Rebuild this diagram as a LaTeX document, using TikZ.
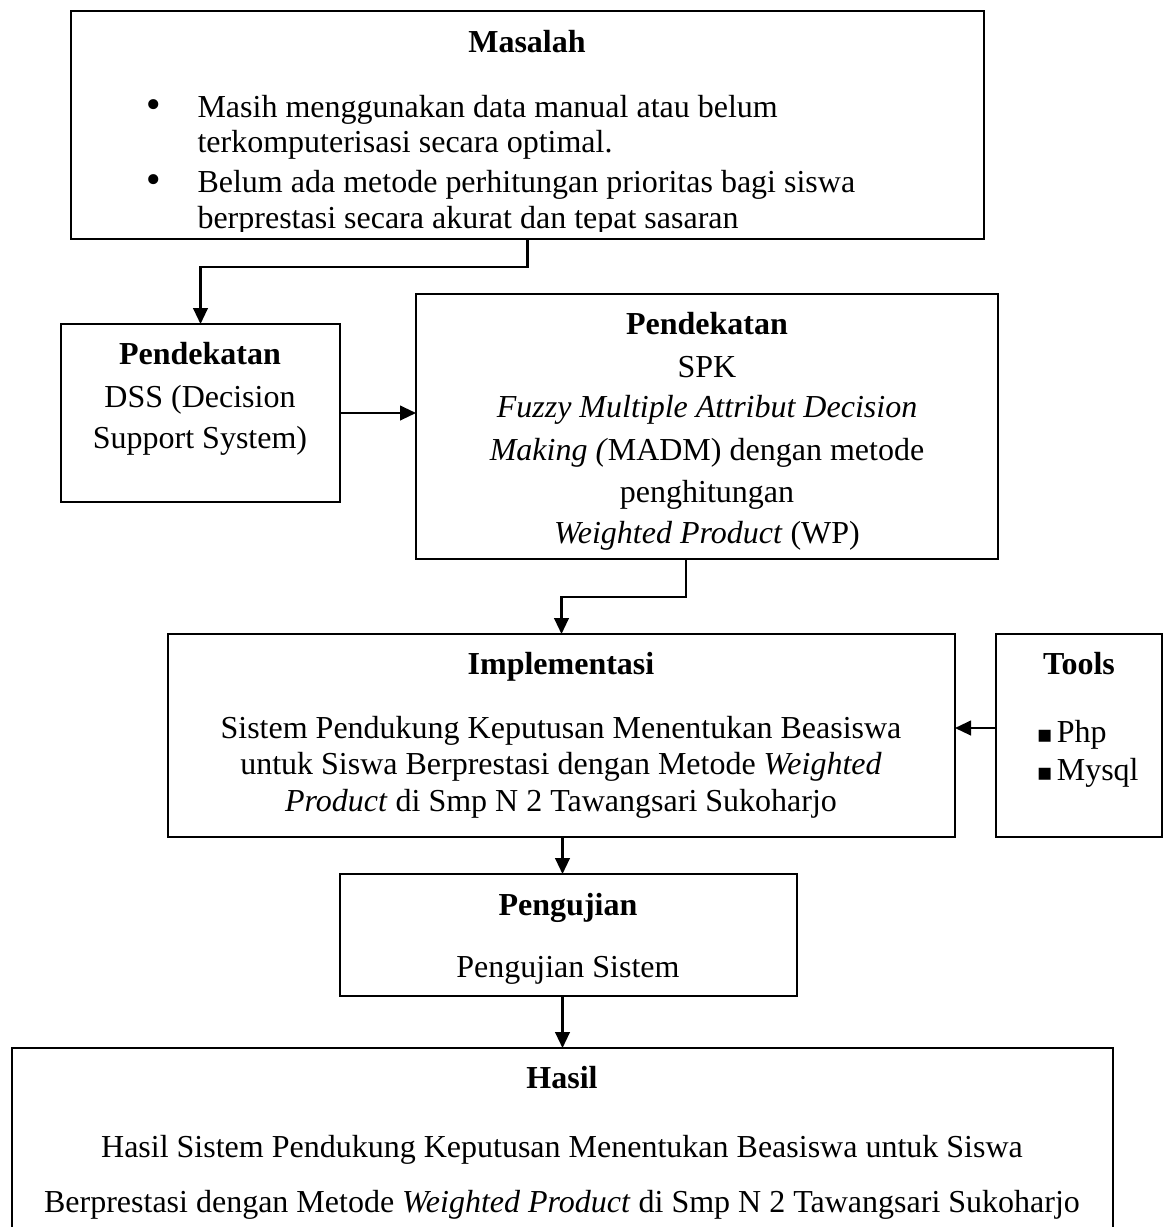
\documentclass[tikz,border=0pt]{standalone}
\usepackage{fontspec}
\setmainfont{Liberation Serif}
\newfontfamily\symfont{DejaVu Sans}
\usetikzlibrary{arrows.meta, fit, calc}

\begin{document}
\begin{tikzpicture}[x=0.375pt, y=-0.375pt, font=\fontsize{12}{14}\selectfont,
  box/.style={draw, line width=0.9pt, inner sep=0pt, outer sep=0pt},
  txt/.style={anchor=base, inner sep=0pt},
  arr/.style={-{Triangle[length=6pt, width=5.5pt]}, line width=0.8pt}]

    \useasboundingbox (0,0) rectangle (1164,1227);
    \clip (0,0) rectangle (1164,1227);

    % Draw boxes
    \node[box, fit={(71,11) (984,239)}] (masalah) {};
    \node[box, fit={(61,324) (340,502)}] (dss) {};
    \node[box, fit={(416,294) (998,559)}] (pdk) {};
    \node[box, fit={(168,634) (955,837)}] (impl) {};
    \node[box, fit={(996,634) (1162,837)}] (tools) {};
    \node[box, fit={(340,874) (797,996)}] (uji) {};
    \node[box, fit={(12,1048) (1113,1260)}] (hasil) {};

    % Masalah
    \node[txt] (masalahT) at (527,52) {\textbf{Masalah}};
    \foreach \i/\y in {1/117, 2/192}
      \node[txt] (dot\i) at (154,\y) {\symfont\fontsize{13}{13}\selectfont •};
    \begin{scope}
      \clip (71,11) rectangle (984,231);
      \foreach \i/\y/\t in {1/117/Masih menggunakan data manual atau belum, 2/152/terkomputerisasi secara optimal., 3/192/Belum ada metode perhitungan prioritas bagi siswa, 4/228/berprestasi secara akurat dan tepat sasaran}
        \node[txt, anchor=base west] (masalah\i) at (197,\y) {\t};
    \end{scope}

    % Pendekatan (DSS)
    \foreach \i/\y/\t in {1/364/\textbf{Pendekatan}, 2/407/DSS (Decision, 3/448/Support System)}
      \node[txt] (dss\i) at (200,\y) {\t};

    % Pendekatan (SPK)
    \foreach \i/\y/\t in {1/334/\textbf{Pendekatan}, 2/377/SPK, 3/417/\textit{Fuzzy Multiple Attribut Decision}, 4/460/\textit{Making (}MADM) dengan metode, 5/502/penghitungan, 6/543/\textit{Weighted Product} (WP)}
      \node[txt] (pdk\i) at (707,\y) {\t};

    % Implementasi
    \foreach \i/\y/\t in {1/674/\textbf{Implementasi}, 2/738/Sistem Pendukung Keputusan Menentukan Beasiswa, 3/774/untuk Siswa Berprestasi dengan Metode \textit{Weighted}, 4/811/\textit{Product} di Smp N 2 Tawangsari Sukoharjo}
      \node[txt] (impl\i) at (561,\y) {\t};

    % Tools
    \node[txt] (toolsT) at (1079,674) {\textbf{Tools}};
    \foreach \i/\y/\t in {1/742/Php, 2/780/Mysql}
      \node[txt, anchor=base west] (tools\i) at (1036,\y) {{\symfont\fontsize{9}{9}\selectfont\char"25AA}\hspace{1.5pt}\t};

    % Pengujian
    \foreach \i/\y/\t in {1/915/\textbf{Pengujian}, 2/977/Pengujian Sistem}
      \node[txt] (uji\i) at (568,\y) {\t};

    % Hasil
    \foreach \i/\y/\t in {1/1088/\textbf{Hasil}, 2/1157/Hasil Sistem Pendukung Keputusan Menentukan Beasiswa untuk Siswa, 3/1212/Berprestasi dengan Metode \textit{Weighted Product} di Smp N 2 Tawangsari Sukoharjo}
      \node[txt] (hasil\i) at (562,\y) {\t};

    % Draw arrows
    \draw[arr] (masalah.south) -- ++(0,28) -| (dss.north);
    \draw[arr] (dss.east) -- (dss.east -| pdk.west);
    \draw[arr] ($(pdk.south)+(-21,0)$) -- ++(0,38) -| (impl.north);
    \draw[arr] (tools.west |- 0,728) -- (impl.east |- 0,728);
    \draw[arr] (impl.south -| hasil.north) -- (uji.north -| hasil.north);
    \draw[arr] (uji.south -| hasil.north) -- (hasil.north);
\end{tikzpicture}
\end{document}
